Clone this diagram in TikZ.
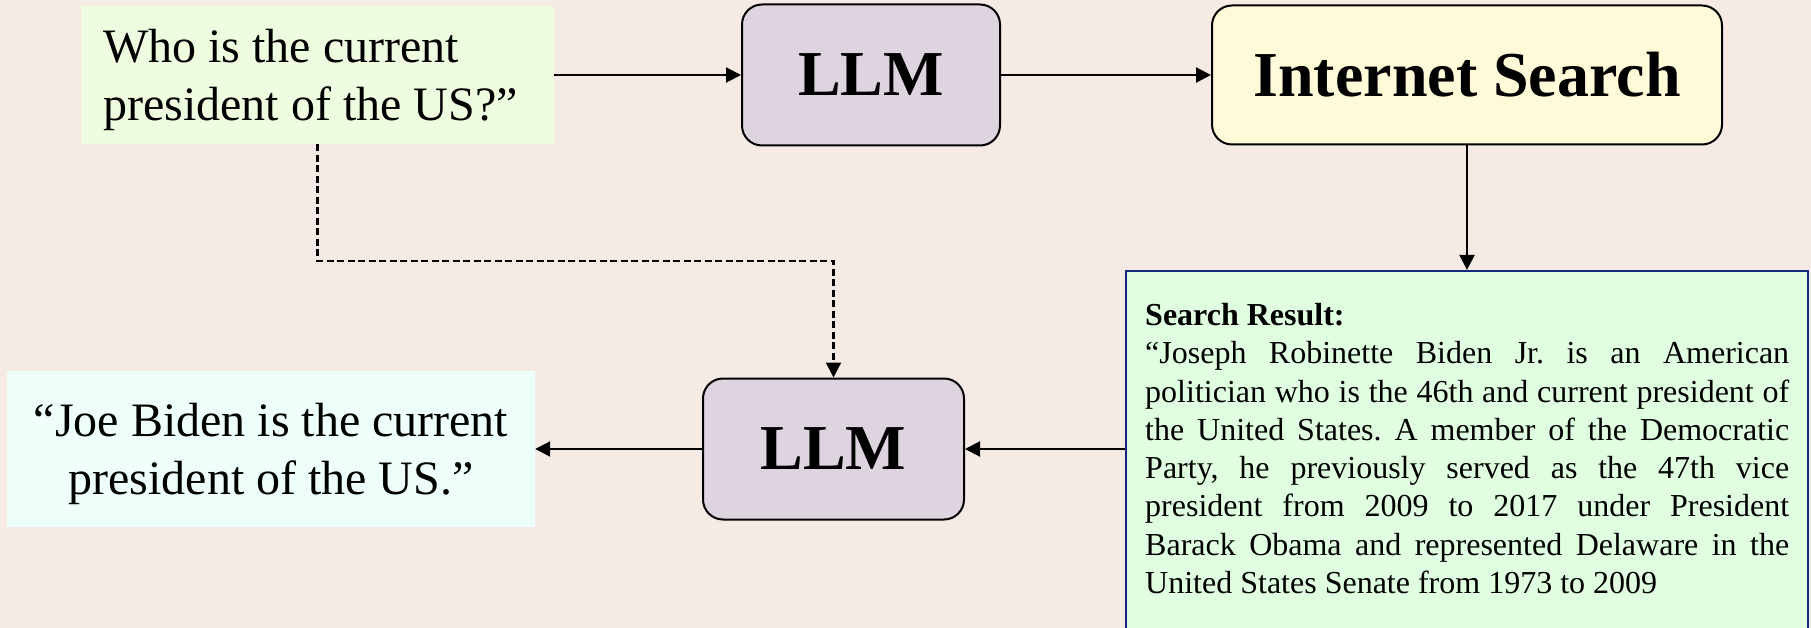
\documentclass[tikz,border=0pt]{standalone}
\usepackage{fontspec}
\setmainfont{Liberation Serif}
\usetikzlibrary{arrows.meta,calc}
\definecolor{bg}{RGB}{246,234,228}
\definecolor{qfill}{RGB}{238,252,224}
\definecolor{llmfill}{RGB}{222,212,224}
\definecolor{isfill}{RGB}{255,250,215}
\definecolor{srfill}{RGB}{224,254,224}
\definecolor{srborder}{RGB}{20,40,130}
\definecolor{ansfill}{RGB}{238,255,250}
\begin{document}
\frenchspacing
\begin{tikzpicture}[x=1pt,y=-1pt,
  rbox/.style={draw=black, line width=2pt, rounded corners=20pt, inner sep=0pt},
  plainbox/.style={inner sep=0pt},
  arr/.style={line width=2.1pt, -{Triangle[length=15pt,width=15pt]}},
  darr/.style={arr, line width=2.2pt, dash pattern=on 7pt off 3.5pt},
  bigtxt/.style={font=\fontsize{48}{58}\selectfont, inner sep=0pt},
  boldtxt/.style={font=\fontsize{64}{70}\selectfont\bfseries},
  srtxt/.style={font=\fontsize{32}{38.3}\selectfont, inner sep=0pt, text width=644pt, align=justify}
]
\useasboundingbox (0,0) rectangle (1811,628);
\clip (0,0) rectangle (1811,628);
\fill[bg] (0,0) rectangle (1811,628);

% boxes
\node[plainbox, fill=qfill, minimum width=473pt, minimum height=138pt] (q) at (317.5,75) {};
\node[bigtxt, anchor=north west, align=left] (qtxt) at (103,29) {Who is the current\\president of the US?”};

\node[rbox, fill=llmfill, minimum width=258pt, minimum height=141pt, boldtxt] (llm1) at (871,75) {LLM};
\node[rbox, fill=isfill, minimum width=510pt, minimum height=139pt, boldtxt] (is) at (1467,75) {Internet Search};

\node[draw=srborder, line width=2.2pt, fill=srfill, minimum width=682pt, minimum height=380pt, inner sep=0pt] (sr) at (1467,461) {};
\node[srtxt, anchor=north west] (srtxt) at (1145,303) {\tolerance=9999\hbadness=10000\hyphenpenalty=10000\parfillskip=0pt plus 1fil
\textbf{Search Result:}\\
“Joseph Robinette Biden Jr. is an American\linebreak
politician who is the 46th and current president of\linebreak
the United States. A member of the Democratic\linebreak
Party, he previously served as the 47th vice\linebreak
president from 2009 to 2017 under President\linebreak
Barack Obama and represented Delaware in the\linebreak
United States Senate from 1973 to 2009};

\node[rbox, fill=llmfill, minimum width=261pt, minimum height=141pt, boldtxt] (llm2) at (833.5,449) {LLM};

\node[plainbox, fill=ansfill, minimum width=528pt, minimum height=156pt] (ans) at (271,449) {};
\node[bigtxt, anchor=north, align=center] (atxt) at (271,403) {“Joe Biden is the current\\president of the US.”};

% connectors
\draw[arr] (q.east) -- (llm1.west);
\draw[arr] (llm1.east) -- (is.west);
\draw[arr] (is.south) -- (sr.north);
\draw[arr] (llm2.east -| sr.west) -- (llm2.east);
\draw[arr] (llm2.west) -- (ans.east);
\coordinate (bend) at (833.5,261);
\draw[darr] (q.south) |- (bend) -- (llm2.north);
\end{tikzpicture}
\end{document}
